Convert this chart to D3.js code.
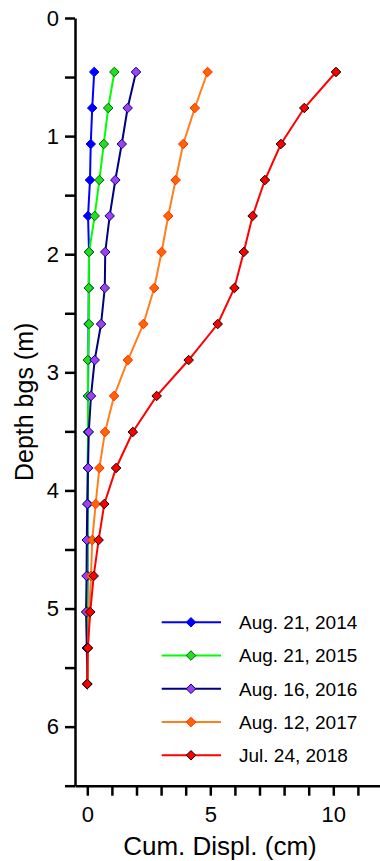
<!DOCTYPE html>
<html>
<head>
<meta charset="utf-8">
<script src="https://cdn.jsdelivr.net/npm/d3@7"></script>
<style>
  html, body { margin: 0; padding: 0; background: #fff; }
  svg { display: block; font-family: "Liberation Sans", Arial, sans-serif; }
</style>
</head>
<body>
<svg id="chart" width="380" height="861"></svg>
<script>
// Inclinometer readings: depth below ground surface (m), one reading every foot
const depths = d3.range(18).map(k => +((1.5 + k) * 0.3048).toFixed(3));

// Cumulative displacement (cm) at each depth, per survey date
const disp2014 = [0.28, 0.20, 0.14, 0.11, 0.03, 0.07, 0.06, 0.05, 0.04, 0.03, 0.03, 0.02, 0.02, 0.01, 0.01, 0.00, 0.00, 0.00];
const disp2015 = [1.10, 0.85, 0.67, 0.49, 0.30, 0.07, 0.06, 0.07, 0.02, 0.03, 0.03, 0.02, 0.01, 0.01, 0.00, 0.00, 0.00, 0.00];
const disp2016 = [1.98, 1.64, 1.40, 1.14, 0.91, 0.73, 0.71, 0.56, 0.30, 0.15, 0.06, 0.03, 0.00, -0.02, -0.03, -0.05, -0.02, 0.00];
const disp2017 = [4.89, 4.37, 3.90, 3.59, 3.29, 3.02, 2.72, 2.28, 1.65, 1.09, 0.72, 0.49, 0.34, 0.20, 0.15, 0.08, 0.03, 0.00];
const disp2018 = [10.11, 8.82, 7.87, 7.22, 6.72, 6.36, 5.98, 5.30, 4.12, 2.82, 1.85, 1.17, 0.69, 0.46, 0.26, 0.12, 0.02, 0.00];

const seriesLabels = ["Aug. 21, 2014", "Aug. 21, 2015", "Aug. 16, 2016", "Aug. 12, 2017", "Jul. 24, 2018"];
const seriesValues = [disp2014, disp2015, disp2016, disp2017, disp2018];

const yTicks = d3.range(0, 6.51, 0.5);
const xTicks = d3.range(0, 12, 1);
const xTickLabels = [0, 5, 10];

// Line colour, marker fill, marker outline per series
const styles = [
  { line: "#0000ff", fill: "#0000ff", stroke: "#0000ff" },
  { line: "#00ff00", fill: "#22dd22", stroke: "#006600" },
  { line: "#000080", fill: "#a040f0", stroke: "#000080" },
  { line: "#ff7f1e", fill: "#ff6400", stroke: "#ff2a00" },
  { line: "#ff0000", fill: "#ff0000", stroke: "#000000" }
];

const svg = d3.select("#chart");

const x = d3.scaleLinear().domain([-0.5, 12]).range([75, 382.5]);
const y = d3.scaleLinear().domain([0, 6.5]).range([18, 785.7]);

// Y axis (depth increases downward)
const yAxis = svg.append("g")
  .attr("transform", `translate(${x(-0.5)},0)`)
  .call(d3.axisLeft(y)
    .tickValues(yTicks)
    .tickSize(10)
    .tickSizeOuter(0)
    .tickPadding(6)
    .tickFormat(d => Number.isInteger(d) ? d : ""));

// X axis along the bottom
const xAxis = svg.append("g")
  .attr("transform", `translate(0,${y(6.5)})`)
  .call(d3.axisBottom(x)
    .tickValues(xTicks)
    .tickSize(10)
    .tickSizeOuter(0)
    .tickPadding(11)
    .tickFormat(d => xTickLabels.includes(d) ? d : ""));

[yAxis, xAxis].forEach(g => {
  g.select(".domain").attr("stroke", "#000").attr("stroke-width", 2.5);
  g.selectAll(".tick line").attr("stroke", "#000").attr("stroke-width", 2.5);
  g.selectAll(".tick text").attr("fill", "#000").attr("font-size", 22);
});

// Axis titles
svg.append("text")
  .attr("transform", `translate(33,${(y(0) + y(6.5)) / 2}) rotate(-90)`)
  .attr("text-anchor", "middle")
  .attr("font-size", 25)
  .attr("fill", "#000")
  .text("Depth bgs (m)");

svg.append("text")
  .attr("x", 220)
  .attr("y", 855)
  .attr("text-anchor", "middle")
  .attr("font-size", 26)
  .attr("fill", "#000")
  .text("Cum. Displ. (cm)");

// Profiles
const line = d3.line()
  .x(d => x(d.v))
  .y(d => y(d.z));

const diamond = d3.symbol().type(d3.symbolDiamond2).size(58);

seriesValues.forEach((vals, i) => {
  const pts = vals.map((v, k) => ({ v, z: depths[k] }));
  const st = styles[i];
  const g = svg.append("g");
  g.append("path")
    .datum(pts)
    .attr("fill", "none")
    .attr("stroke", st.line)
    .attr("stroke-width", 2)
    .attr("d", line);
  g.selectAll("path.pt")
    .data(pts)
    .join("path")
    .attr("class", "pt")
    .attr("transform", d => `translate(${x(d.v)},${y(d.z)})`)
    .attr("d", diamond)
    .attr("fill", st.fill)
    .attr("stroke", st.stroke)
    .attr("stroke-width", 1);
});

// Legend
const legend = svg.append("g");
seriesLabels.forEach((label, i) => {
  const st = styles[i];
  const ly = 622.3 + i * 33.25;
  legend.append("line")
    .attr("x1", 161.7).attr("x2", 221)
    .attr("y1", ly).attr("y2", ly)
    .attr("stroke", st.line)
    .attr("stroke-width", 2);
  legend.append("path")
    .attr("transform", `translate(191,${ly})`)
    .attr("d", diamond)
    .attr("fill", st.fill)
    .attr("stroke", st.stroke)
    .attr("stroke-width", 1);
  legend.append("text")
    .attr("x", 239)
    .attr("y", ly)
    .attr("dy", "0.36em")
    .attr("font-size", 19)
    .attr("fill", "#000")
    .text(label);
});
</script>
</body>
</html>
